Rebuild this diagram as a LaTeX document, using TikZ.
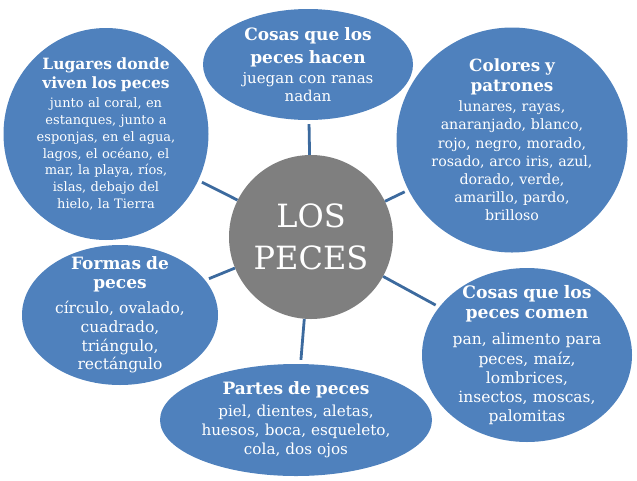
\documentclass[tikz,border=0pt]{standalone}
\usepackage{fontspec}
\setmainfont{DejaVu Serif}
\usetikzlibrary{shapes.geometric}
\definecolor{azul}{HTML}{4F81BD}
\definecolor{gris}{HTML}{7F7F7F}
\definecolor{linea}{HTML}{3C6A9E}
\newcommand{\titulo}[3]{{\bfseries\fontsize{#1}{#2}\selectfont #3\par}}
\tikzset{
    %Define style for bubbles
    burbuja/.style={
        ellipse,
        fill=azul,
        inner sep=0pt
    },
    %Define style for texts
    texto/.style={
        text=white,
        align=center,
        text width=240pt,
        inner sep=0pt
    },
    % Define connector style
    conector/.style={
        draw=linea,
        line width=2.8pt,
        shorten >=4pt}
}

\begin{document}
\begin{tikzpicture}[x=1pt,y=-1pt]
    \useasboundingbox (0,0) rectangle (637,480);
    %nodes
    \node[circle, fill=gris, minimum size=164pt, inner sep=0pt](centro) at (311,237){};
    \node[burbuja, minimum width=210pt, minimum height=111pt](hacen) at (308,64.5){};
    \node[burbuja, minimum width=205pt, minimum height=212pt](lugares) at (106,134){};
    \node[burbuja, minimum width=231pt, minimum height=225pt](colores) at (512,140){};
    \node[burbuja, minimum width=196pt, minimum height=140pt](formas) at (120,315){};
    \node[burbuja, minimum width=272pt, minimum height=112pt](partes) at (296,420){};
    \node[burbuja, minimum width=210pt, minimum height=174pt](comen) at (527,355){};
    %connectors
    \path (centro) edge[conector] (hacen)
          (centro) edge[conector] (lugares)
          (centro) edge[conector] (colores)
          (centro) edge[conector] (formas)
          (centro) edge[conector] (partes)
          (centro) edge[conector] (comen);
    %texts
    \node[texto, font=\fontsize{32}{41.7}\selectfont](centro-t) at (centro){LOS\\PECES};
    \node[texto, font=\fontsize{15}{18.3}\selectfont](hacen-t) at (hacen){%
        \titulo{17}{23}{Cosas que los\\peces hacen}\vspace{1.7pt}
        juegan con ranas\\nadan};
    \node[texto, font=\fontsize{13}{16.7}\selectfont](lugares-t) at (lugares){%
        \titulo{15.5}{19}{Lugares donde\\viven los peces}\vspace{2.3pt}
        junto al coral, en\\estanques, junto a\\esponjas, en el agua,\\lagos, el océano, el\\mar, la playa, ríos,\\islas, debajo del\\hielo, la Tierra};
    \node[texto, font=\fontsize{14.2}{18.2}\selectfont](colores-t) at (colores){%
        \titulo{16.8}{20}{Colores y\\patrones}\vspace{1.8pt}
        lunares, rayas,\\anaranjado, blanco,\\rojo, negro, morado,\\rosado, arco iris, azul,\\dorado, verde,\\amarillo, pardo,\\brilloso};
    \node[texto, font=\fontsize{15.5}{18.7}\selectfont](formas-t) at (formas){%
        \titulo{17}{19.3}{Formas de\\peces}\vspace{6.3pt}
        círculo, ovalado,\\cuadrado,\\triángulo,\\rectángulo};
    \node[texto, font=\fontsize{15.2}{19.2}\selectfont](partes-t) at (partes){%
        \titulo{17}{20}{Partes de peces}\vspace{2.8pt}
        piel, dientes, aletas,\\huesos, boca, esqueleto,\\cola, dos ojos};
    \node[texto, font=\fontsize{15.5}{19.2}\selectfont](comen-t) at (comen){%
        \titulo{17.2}{20}{Cosas que los\\peces comen}\vspace{7.5pt}
        pan, alimento para\\peces, maíz,\\lombrices,\\insectos, moscas,\\palomitas};
\end{tikzpicture}
\end{document}
